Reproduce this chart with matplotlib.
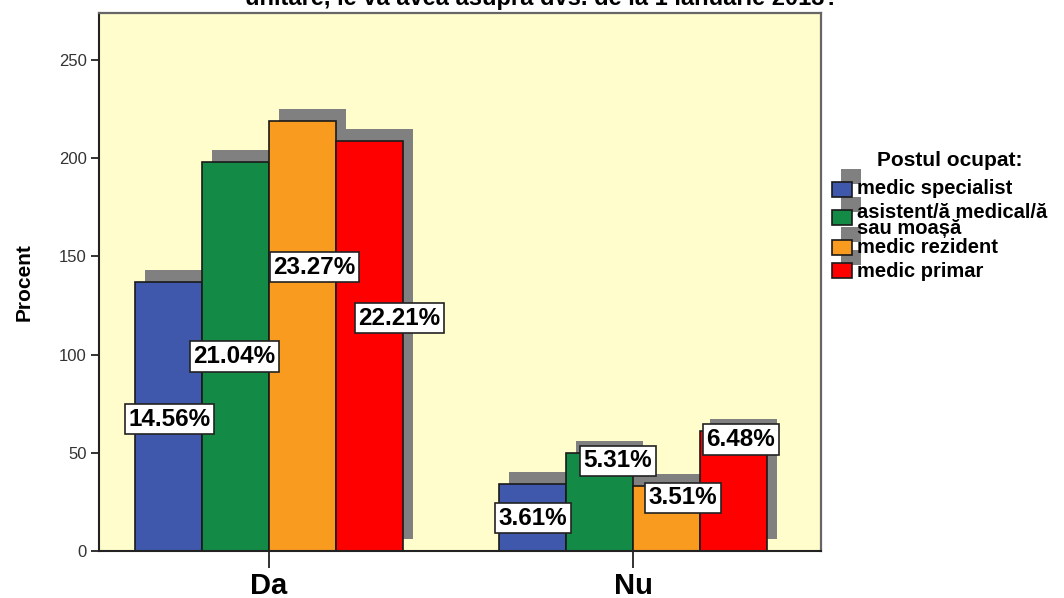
import matplotlib
matplotlib.use("Agg")
import matplotlib.pyplot as plt
from matplotlib.patches import Rectangle
import numpy as np

plt.rcParams['font.family'] = ['Liberation Sans', 'DejaVu Sans']

categories = ["Da", "Nu"]
series_names = ["medic specialist", "asistent/ă medical/ă\nsau moașă", "medic rezident", "medic primar"]
values = {
    "medic specialist": [137, 34],
    "asistent/ă medical/ă\nsau moașă": [198, 50],
    "medic rezident": [219, 33],
    "medic primar": [209, 61],
}
pct_labels = {
    "medic specialist": ["14.56%", "3.61%"],
    "asistent/ă medical/ă\nsau moașă": ["21.04%", "5.31%"],
    "medic rezident": ["23.27%", "3.51%"],
    "medic primar": ["22.21%", "6.48%"],
}
yticks = [0, 50, 100, 150, 200, 250]
title = "unitare, le va avea asupra dvs. de la 1 ianuarie 2013?"
legend_title = "Postul ocupat:"
ylabel = "Procent"

colors = ["#3F58AB", "#138B47", "#F89B1F", "#FE0000"]
shadow_color = "#808080"

# layout (label offsets: px horizontally, fraction of bar height vertically)
label_dx_px = [[1, -1, 12, 30], [0, 18, 16, 7]]
label_yfrac = [[0.49, 0.50, 0.66, 0.567], [0.49, 0.92, 0.82, 0.93]]

W, H = 1064, 598
fig = plt.figure(figsize=(W / 100, H / 100), dpi=100)
fig.patch.set_facecolor("white")
ax = fig.add_axes([99 / W, 1 - 551 / H, (821 - 99) / W, (551 - 13) / H])
ax.set_facecolor("#FFFDCC")

xmin, xmax = -0.467, 1.516
ymin, ymax = 0, 274
ax.set_xlim(xmin, xmax)
ax.set_ylim(ymin, ymax)
px_x = (xmax - xmin) / (821 - 99)
px_y = (ymax - ymin) / (551 - 13)

bw = 0.184
x = np.arange(len(categories))
sdx, sdy = 10 * px_x, 12 * px_y

# shadows first
for i, name in enumerate(series_names):
    pos = x + (i - 1.5) * bw
    ax.bar(pos + sdx, values[name], width=bw, bottom=sdy, color=shadow_color,
           edgecolor="none", zorder=1)
# bars
for i, name in enumerate(series_names):
    pos = x + (i - 1.5) * bw
    ax.bar(pos, values[name], width=bw, color=colors[i], edgecolor="#1a1a1a",
           linewidth=1.2, zorder=2)

# labels
for i, name in enumerate(series_names):
    pos = x + (i - 1.5) * bw
    for g in range(len(categories)):
        v = values[name][g]
        ax.text(pos[g] + label_dx_px[g][i] * px_x, v * label_yfrac[g][i],
                pct_labels[name][g], ha="center", va="center", fontsize=17.5,
                fontweight="bold", color="black", zorder=5,
                bbox=dict(boxstyle="square,pad=0.15", facecolor="white",
                          edgecolor="#222222", linewidth=1.2))

ax.set_yticks(yticks)
ax.set_yticklabels([str(t) for t in yticks], fontsize=12, color="#333333")
ax.set_xticks(x)
ax.set_xticklabels(categories, fontsize=21, fontweight="bold")
ax.tick_params(axis="y", length=6, width=1.3, color="#222222", pad=3)
ax.tick_params(axis="x", length=12, width=1.3, color="#222222", pad=3)
ax.set_ylabel(ylabel, fontsize=15, fontweight="bold", labelpad=18)

for s in ["left", "bottom"]:
    ax.spines[s].set_color("#222222")
    ax.spines[s].set_linewidth(1.5)
for s in ["top", "right"]:
    ax.spines[s].set_color("#666666")
    ax.spines[s].set_linewidth(1.6)

# title (cut off at top, as in the reference)
fig.text(542 / W, 1 - 5 / H, title, ha="center", va="baseline",
         fontsize=17, fontweight="bold")

# manual legend
def fx(px):
    return px / W

def fy(py):
    return 1 - py / H

fig.text(fx(950), fy(160), legend_title, ha="center", va="center",
         fontsize=15, fontweight="bold")
patch_y = [182, 210, 240, 263]
text_y = [189, 221, 248, 272]
for i, name in enumerate(series_names):
    py = patch_y[i]
    fig.add_artist(Rectangle((fx(832 + 9), fy(py - 13 + 15)), 20 / W, 15 / H,
                             transform=fig.transFigure, facecolor=shadow_color,
                             edgecolor="none", zorder=1))
for i, name in enumerate(series_names):
    py = patch_y[i]
    fig.add_artist(Rectangle((fx(832), fy(py + 15)), 20 / W, 15 / H,
                             transform=fig.transFigure, facecolor=colors[i],
                             edgecolor="#1a1a1a", linewidth=1.2, zorder=2))
    fig.text(fx(857), fy(text_y[i]), name, ha="left", va="center",
             fontsize=14.5, fontweight="bold", linespacing=0.8, zorder=3)

fig.savefig("out.png", dpi=100)
